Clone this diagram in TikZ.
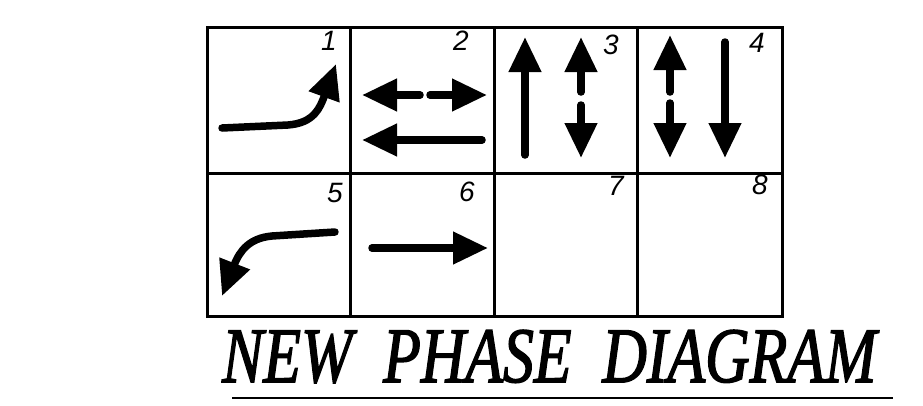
\documentclass[tikz,border=0pt]{standalone}
\usepackage{fontspec}
\usepackage{graphicx}
\usetikzlibrary{arrows.meta}
\newfontfamily\titlefont[FakeBold=2]{Liberation Serif}
\newfontfamily\numfont{Liberation Sans}
\begin{document}
\begin{tikzpicture}[x=1pt,y=-1pt,
  gridline/.style={line width=3pt},
  num/.style={font=\numfont\itshape\fontsize{28}{28}\selectfont, inner sep=0pt},
  arr/.style={line width=7.5pt, line cap=round, -{Triangle[length=35pt,width=31pt]}}]
\useasboundingbox (0,0) rectangle (923,405);
% grid
\draw[gridline] (207,27) rectangle (782,316);
\draw[gridline] (350,27) -- (350,316);
\draw[gridline] (494,27) -- (494,316);
\draw[gridline] (637,27) -- (637,316);
\draw[gridline] (207,173) -- (782,173);
% numbers
\node[num] (n1) at (329,41) {1};
\node[num] (n2) at (461,41) {2};
\node[num] (n3) at (611,45) {3};
\node[num] (n4) at (757,43) {4};
\node[num] (n5) at (335,193) {5};
\node[num] (n6) at (467,192) {6};
\node[num] (n7) at (616,186) {7};
\node[num] (n8) at (760,185) {8};
% cell 1
\draw[arr] (222,128) -- (288,125) .. controls (314,123) and (320,108) .. (336,64);
% cell 2
\draw[arr] (420,95) -- (362,95);
\draw[arr] (430,95) -- (487,95);
\draw[arr] (482,140) -- (362,140);
% cell 3
\draw[arr] (525,155) -- (525,37);
\draw[arr] (581,92) -- (581,37);
\draw[arr] (581,105) -- (581,158);
% cell 4
\draw[arr] (670,92) -- (670,35);
\draw[arr] (670,103) -- (670,158);
\draw[arr] (725,42) -- (725,158);
% cell 5
\draw[arr] (335,232) -- (272,236) .. controls (250,238) and (240,250) .. (222,296);
% cell 6
\draw[arr] (372,248) -- (488,248);
% title
\node[anchor=base west, inner sep=0pt] (title) at (222,382)
  {\resizebox{654pt}{52pt}{\titlefont\itshape NEW\hspace{0.5em}PHASE\hspace{0.5em}DIAGRAM}};
\draw[line width=2pt] (232,398) -- (893,398);
\end{tikzpicture}
\end{document}
